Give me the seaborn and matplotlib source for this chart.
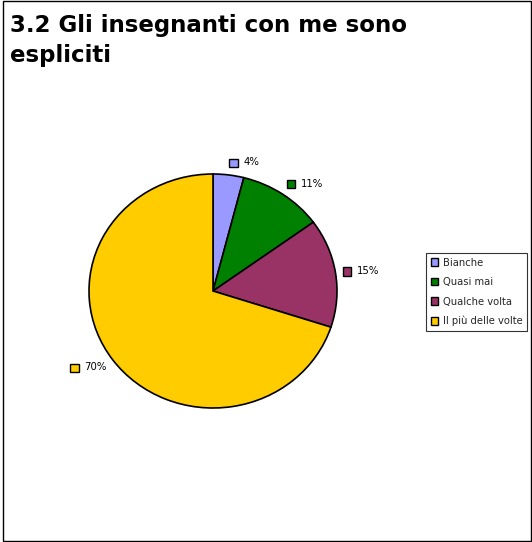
import matplotlib
matplotlib.use("Agg")
import matplotlib.pyplot as plt
import seaborn as sns
import numpy as np
from matplotlib.offsetbox import AnnotationBbox, HPacker, TextArea, DrawingArea
from matplotlib.patches import Rectangle

sns.set_theme(style="white")
plt.rcParams['font.family'] = ['DejaVu Sans']

title = "3.2 Gli insegnanti con me sono\nespliciti"
categories = ["Bianche", "Quasi mai", "Qualche volta", "Il più delle volte"]
values = [4, 11, 15, 70]
labels = ["4%", "11%", "15%", "70%"]
colors = ["#9999ff", "#008000", "#993366", "#ffcc00"]

W, H = 532, 542
fig = plt.figure(figsize=(W / 100, H / 100), dpi=100)

# pie axes: centre (213, 291) px, radius 124 px horiz, 117 px vert
cx, cy, rx, ry = 213, 291, 124, 117
ax = fig.add_axes([(cx - 1.5 * rx) / W, (H - cy - 1.5 * ry) / H, 3 * rx / W, 3 * ry / H])
wedges, _ = ax.pie(values, colors=colors, startangle=90, counterclock=False,
                   wedgeprops=dict(edgecolor="black", linewidth=1.2))
ax.set_aspect("auto")
ax.set_xlim(-1.5, 1.5)
ax.set_ylim(-1.5, 1.5)
ax.axis("off")

# data labels with colour keys
for w, lab, col in zip(wedges, labels, colors):
    ang = np.deg2rad((w.theta1 + w.theta2) / 2)
    x, y = 1.06 * np.cos(ang), 1.11 * np.sin(ang)
    da = DrawingArea(7, 7, 0, 0)
    da.add_artist(Rectangle((0, 0), 6, 6, facecolor=col, edgecolor="black", linewidth=1.0))
    ta = TextArea(lab, textprops=dict(fontsize=7.3, color="black"))
    box = HPacker(children=[da, ta], align="center", pad=0, sep=3)
    ab = AnnotationBbox(box, (x, y), frameon=False, pad=0,
                        box_alignment=(0 if x >= 0 else 1, 0.5))
    ax.add_artist(ab)

# legend
handles = [Rectangle((0, 0), 1, 1, facecolor=c, edgecolor="black", linewidth=1.0) for c in colors]
leg = fig.legend(handles, categories, loc="center left",
                 bbox_to_anchor=(426 / W, 1 - 292 / H), fontsize=7.2,
                 frameon=True, fancybox=False, edgecolor="black",
                 handlelength=0.75, handleheight=0.75, handletextpad=0.5,
                 labelspacing=0.95, borderpad=0.45, borderaxespad=0)
leg.get_frame().set_linewidth(0.8)

# title
fig.text(10 / W, 1 - 14 / H, title, fontsize=16.5, fontweight="bold",
         ha="left", va="top", linespacing=1.4, color="black")

# outer border
fig.patches.append(Rectangle((3 / W, 1 / H), 527.5 / W, 540 / H, transform=fig.transFigure,
                             fill=False, edgecolor="black", linewidth=1.0))

fig.savefig("out.png", dpi=100)
